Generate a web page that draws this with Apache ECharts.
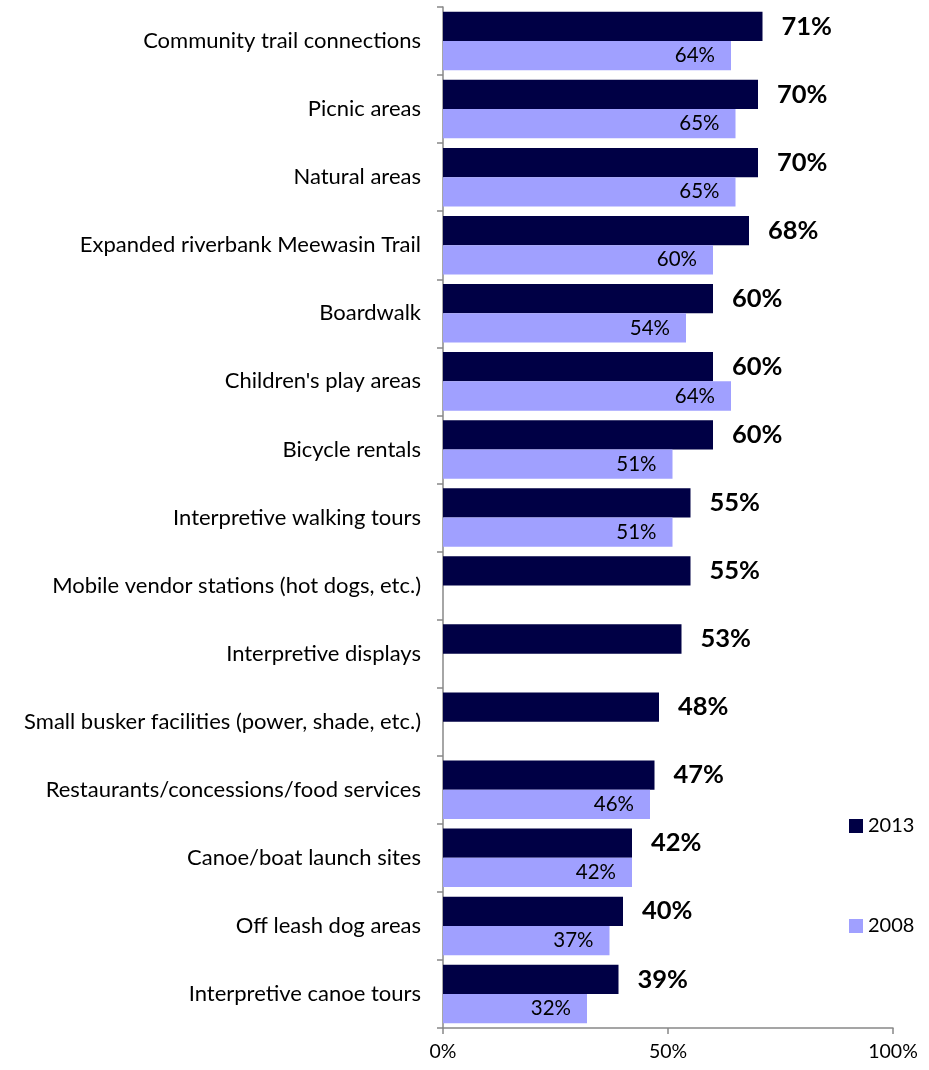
<!DOCTYPE html>
<html>
<head>
<meta charset="utf-8">
<script src="https://cdn.jsdelivr.net/npm/echarts@6/dist/echarts.min.js"></script>
<style>html,body{margin:0;padding:0;background:#fff}#c{width:929px;height:1070px}</style>
</head>
<body>
<div id="c"></div>
<script>
const categories = [
  "Community trail connections",
  "Picnic areas",
  "Natural areas",
  "Expanded riverbank Meewasin Trail",
  "Boardwalk",
  "Children's play areas",
  "Bicycle rentals",
  "Interpretive walking tours",
  "Mobile vendor stations (hot dogs, etc.)",
  "Interpretive displays",
  "Small busker facilities (power, shade, etc.)",
  "Restaurants/concessions/food services",
  "Canoe/boat launch sites",
  "Off leash dog areas",
  "Interpretive canoe tours"
];
const values2013 = [71, 70, 70, 68, 60, 60, 60, 55, 55, 53, 48, 47, 42, 40, 39];
const values2008 = [64, 65, 65, 60, 54, 64, 51, 51, null, null, null, 46, 42, 37, 32];
const xTicks = [0, 50, 100];

const FONT = "Lato";
const chart = echarts.init(document.getElementById('c'), null, {renderer: 'canvas'});
chart.setOption({
  animation: false,
  backgroundColor: '#ffffff',
  textStyle: {fontFamily: FONT},
  grid: {left: 443, right: 36, top: 7, bottom: 42, containLabel: false},
  legend: {
    orient: 'vertical',
    left: 844, top: 811,
    itemWidth: 14, itemHeight: 14, itemGap: 80,
    icon: 'rect',
    textStyle: {fontFamily: FONT, fontSize: 20, color: '#000'},
    data: ['2013', '2008']
  },
  xAxis: {
    type: 'value', min: 0, max: 100, interval: 50,
    axisLine: {show: true, lineStyle: {color: '#888', width: 1.5}},
    axisTick: {show: true, length: 6, lineStyle: {color: '#888', width: 1.5}},
    splitLine: {show: false},
    axisLabel: {fontFamily: FONT, fontSize: 19.5, color: '#000', margin: 14,
      formatter: v => xTicks.includes(v) ? v + '%' : ''}
  },
  yAxis: {
    type: 'category', inverse: true, data: categories,
    axisLine: {show: true, lineStyle: {color: '#888', width: 1.5}},
    axisTick: {show: true, length: 6, lineStyle: {color: '#888', width: 1.5}},
    axisLabel: {fontFamily: FONT, fontSize: 22, color: '#000', margin: 22}
  },
  series: [
    {
      name: '2013', type: 'bar', data: values2013,
      barGap: '0%', barCategoryGap: '14%',
      itemStyle: {color: '#000045'},
      label: {show: true, position: 'right', distance: 19, fontFamily: FONT,
        fontSize: 25.5, fontWeight: 'bold', color: '#000', formatter: p => p.value + '%'}
    },
    {
      name: '2008', type: 'bar', data: values2008,
      barGap: '0%', barCategoryGap: '14%',
      itemStyle: {color: '#A0A0FF'},
      label: {show: true, position: 'insideRight', distance: 16, fontFamily: FONT,
        fontSize: 20.5, color: '#000', formatter: p => p.value == null ? '' : p.value + '%'}
    }
  ]
});
</script>
</body>
</html>
